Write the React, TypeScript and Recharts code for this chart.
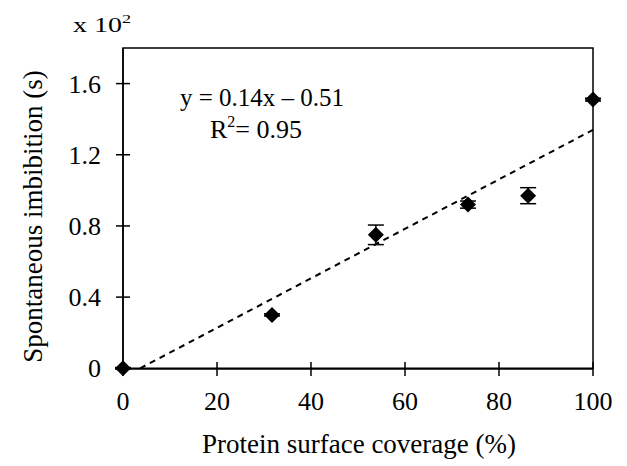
import { ScatterChart, Scatter, XAxis, YAxis, ErrorBar, ReferenceLine, ReferenceArea } from "recharts"

const coverage = [0, 31.7, 53.8, 73.4, 86.2, 100]
const imbibition = [0, 0.3, 0.75, 0.92, 0.97, 1.51]
const imbibitionErr = [0.004, 0.006, 0.055, 0.02, 0.045, 0.008]

const xTicks = [0, 20, 40, 60, 80, 100]
const yTicks = [0, 0.4, 0.8, 1.2, 1.6]

// fitted line y = 0.14x - 0.51 (in s), plotted in units of 10^2 s
const trendStart = { x: 3.64, y: 0 }
const trendEnd = { x: 100, y: 1.34 }

const points = coverage.map((c, i) => ({ c, v: imbibition[i], err: imbibitionErr[i] }))

const FONT = "Liberation Serif, Times New Roman, DejaVu Serif, serif"
const txt = { fontFamily: FONT }

function Diamond(props: any) {
  const { cx, cy } = props
  if (cx == null || cy == null) return null
  const w = 8
  const h = 8
  return <polygon points={`${cx},${cy - h} ${cx + w},${cy} ${cx},${cy + h} ${cx - w},${cy}`} fill="#000" />
}

function XTick(props: any) {
  const { x, y, payload } = props
  return (
    <g>
      <line x1={x} x2={x} y1={y - 7} y2={y + 7} stroke="#000" strokeWidth={1.5} />
      <text x={x} y={y + 41} textAnchor="middle" style={txt} fontSize={26} fill="#000">
        {payload.value}
      </text>
    </g>
  )
}

function YTick(props: any) {
  const { x, y, payload } = props
  return (
    <g>
      <line x1={x - 7} x2={x + 7} y1={y} y2={y} stroke="#000" strokeWidth={1.5} />
      <text x={x - 22} y={y + 9} textAnchor="end" style={txt} fontSize={26} fill="#000">
        {payload.value}
      </text>
    </g>
  )
}

function Annotations(props: any) {
  const { x, y } = props.viewBox
  return (
    <g fill="#000">
      <text x={x + 139} y={y + 58} textAnchor="middle" fontSize={25} style={txt}>
        y = 0.14x – 0.51
      </text>
      <text x={x + 133} y={y + 90} textAnchor="middle" fontSize={26} style={txt}>
        R<tspan fontSize={16} dy={-11}>2</tspan>
        <tspan dy={11}>= 0.95</tspan>
      </text>
      <text transform={`translate(${x - 50} ${y - 16}) scale(1.4 1)`} fontSize={20} style={txt}>
        x 10<tspan fontSize={13} dy={-9}>2</tspan>
      </text>
    </g>
  )
}

export default function App() {
  return (
    <div style={{ position: "absolute", left: 0, top: 0, background: "#fff" }}>
      <ScatterChart width={627} height={466} margin={{ top: 48, right: 34, bottom: 0, left: 0 }}>
        <XAxis
          type="number"
          dataKey="c"
          domain={[0, 100]}
          ticks={xTicks}
          tickSize={0}
          tickMargin={0}
          tickLine={false}
          tick={<XTick />}
          height={97}
          axisLine={{ stroke: "#000", strokeWidth: 1.5 }}
          label={{
            value: "Protein surface coverage (%)",
            content: (p: any) => (
              <text
                x={p.viewBox.x + p.viewBox.width / 2 + 1}
                y={p.viewBox.y + 84}
                textAnchor="middle"
                style={txt}
                fontSize={27}
                fill="#000"
              >
                Protein surface coverage (%)
              </text>
            ),
          }}
        />
        <YAxis
          type="number"
          dataKey="v"
          domain={[0, 1.8]}
          ticks={yTicks}
          tickSize={0}
          tickMargin={0}
          tickLine={false}
          tick={<YTick />}
          width={123}
          axisLine={{ stroke: "#000", strokeWidth: 1.5 }}
          label={{
            value: "Spontaneous imbibition (s)",
            content: (p: any) => {
              const cx = p.viewBox.x + 42
              const cy = p.viewBox.y + p.viewBox.height / 2 + 8
              return (
                <text
                  x={cx}
                  y={cy}
                  transform={`rotate(-90 ${cx} ${cy})`}
                  textAnchor="middle"
                  style={txt}
                  fontSize={27}
                  fill="#000"
                >
                  Spontaneous imbibition (s)
                </text>
              )
            },
          }}
        />
        <ReferenceArea
          x1={0}
          x2={100}
          y1={0}
          y2={1.8}
          fill="none"
          stroke="#000"
          strokeWidth={1.5}
          label={<Annotations />}
        />
        <ReferenceLine
          segment={[trendStart, trendEnd]}
          stroke="#000"
          strokeWidth={2}
          strokeDasharray="6 5"
        />
        <Scatter data={points} shape={<Diamond />} isAnimationActive={false}>
          <ErrorBar dataKey="err" direction="y" width={8} stroke="#000" strokeWidth={1.5} />
        </Scatter>
      </ScatterChart>
    </div>
  )
}
